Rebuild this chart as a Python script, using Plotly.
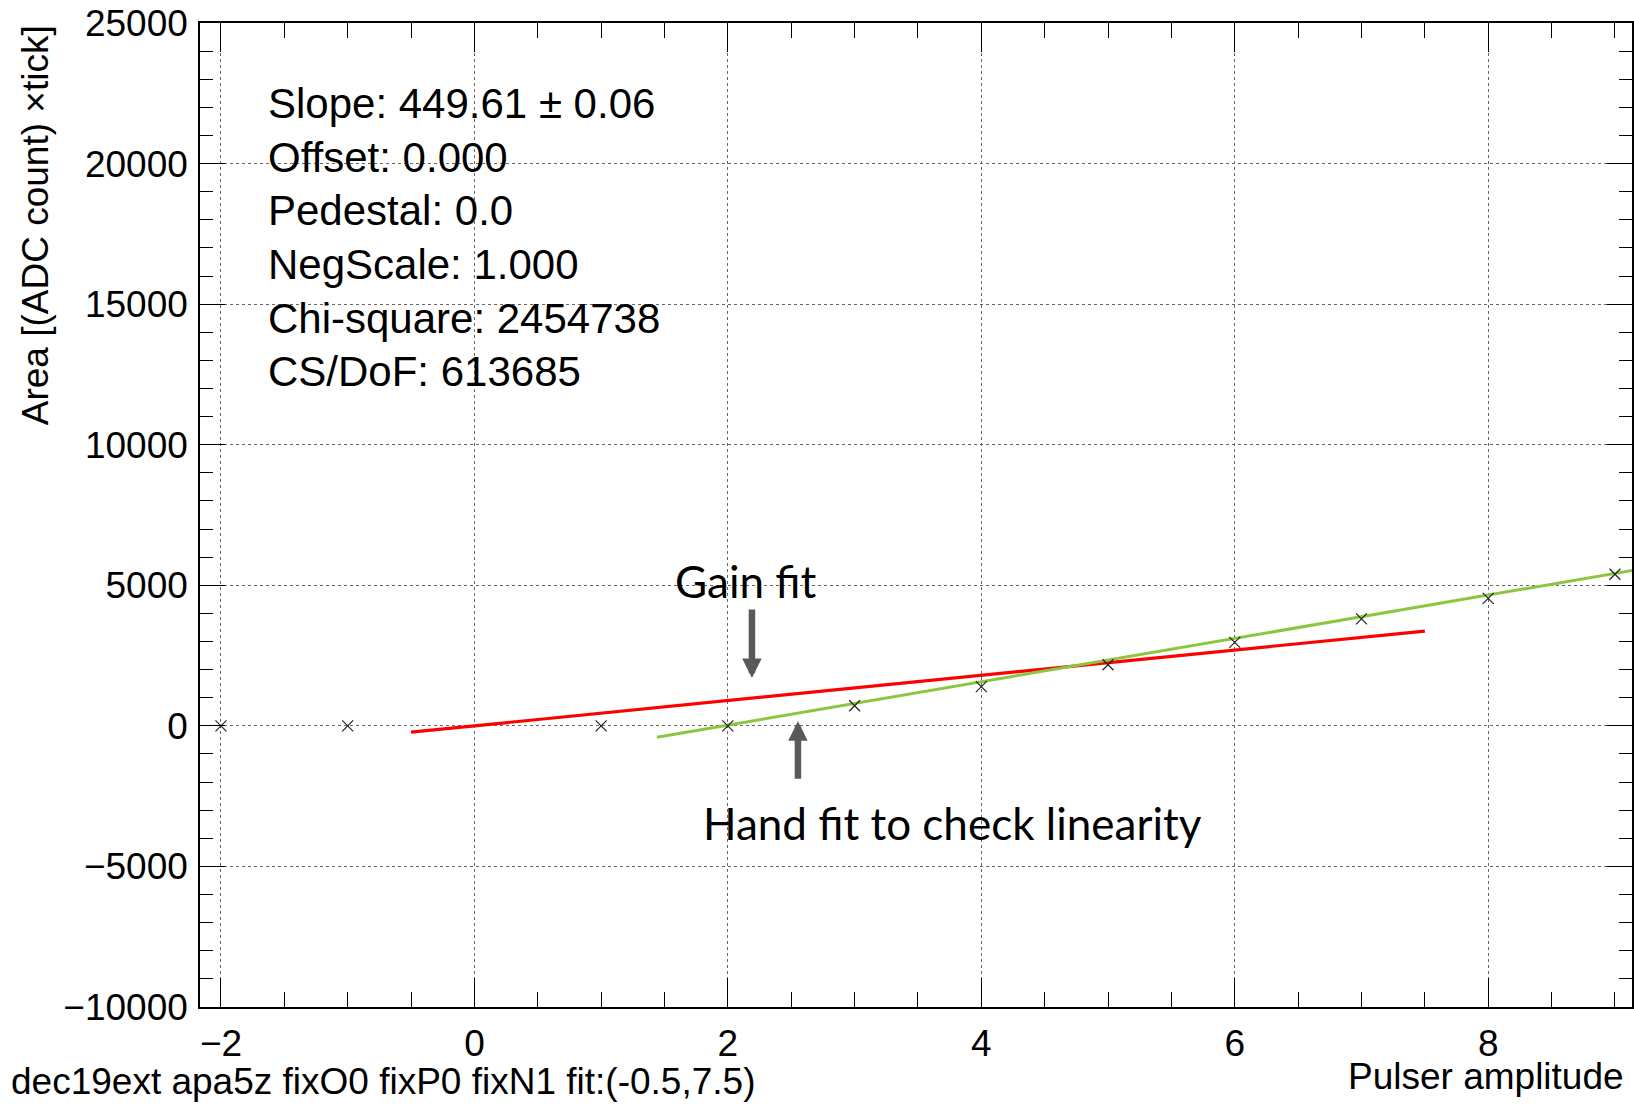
import plotly.graph_objects as go

# ---- data ----
pulser_amp = [-2, -1, 1, 2, 3, 4, 5, 6, 7, 8, 9]
area = [0, 0, 0, 0, 716, 1396, 2172, 2971, 3807, 4535, 5394]

gain_slope = 449.61
gain_offset = 0.0
gain_range = [-0.5, 7.5]

hand_slope = 771.0
hand_offset = -1516.0
hand_range = [1.44, 9.4]

x_ticks = [-2, 0, 2, 4, 6, 8]
x_ticktext = ["\u22122", "0", "2", "4", "6", "8"]
y_ticks = [-10000, -5000, 0, 5000, 10000, 15000, 20000, 25000]
y_ticktext = ["\u221210000", "\u22125000", "0", "5000", "10000", "15000", "20000", "25000"]

stats_lines = [
    "Slope: 449.61 \u00b1 0.06",
    "Offset: 0.000",
    "Pedestal: 0.0",
    "NegScale: 1.000",
    "Chi-square: 2454738",
    "CS/DoF: 613685",
]

x_title = "Pulser amplitude"
y_title = "Area [(ADC count) \u00d7tick]"
footer = "dec19ext apa5z fixO0 fixP0 fixN1 fit:(-0.5,7.5)"

# ---- figure ----
W, H = 1634, 1109
ML, MR, MT, MB = 200, 0, 23, 102
PW, PH = W - ML - MR, H - MT - MB

gain_x = gain_range
gain_y = [gain_slope * v + gain_offset for v in gain_x]
hand_x = hand_range
hand_y = [hand_slope * v + hand_offset for v in hand_x]

fig = go.Figure()
fig.add_trace(go.Scatter(x=gain_x, y=gain_y, mode="lines",
                         line=dict(color="#ff0000", width=3.2), hoverinfo="skip"))
fig.add_trace(go.Scatter(x=hand_x, y=hand_y, mode="lines",
                         line=dict(color="#8cc63f", width=3), hoverinfo="skip"))
fig.add_trace(go.Scatter(x=pulser_amp, y=area, mode="markers",
                         marker=dict(symbol="x-thin-open", size=11, color="#222222",
                                     line=dict(color="#222222", width=1.2))))

root_font = "Liberation Sans, Arial, sans-serif"
axis_common = dict(
    showline=True, linecolor="black", linewidth=1.5, mirror="ticks",
    ticks="inside", tickcolor="black", tickwidth=1.3,
    showgrid=True, gridcolor="#666666", griddash="dot", gridwidth=1,
    zeroline=False, tickfont=dict(family=root_font, size=37, color="black"),
)

fig.update_layout(
    width=W, height=H,
    margin=dict(l=ML, r=MR, t=MT, b=MB, pad=0),
    paper_bgcolor="white", plot_bgcolor="white",
    showlegend=False,
    xaxis=dict(range=[-2.1655, -2.1655 + PW / 126.9], tickmode="array",
               tickvals=x_ticks, ticktext=x_ticktext, ticklen=29, ticklabelstandoff=3,
               minor=dict(dtick=0.5, tick0=0, ticks="inside", ticklen=15,
                          tickcolor="black", tickwidth=1.3, showgrid=False),
               **axis_common),
    yaxis=dict(range=[-10000, 25000], tickmode="array", tickvals=y_ticks,
               ticktext=y_ticktext, ticklen=25, ticklabelstandoff=3,
               minor=dict(dtick=1000, tick0=0, ticks="inside", ticklen=13,
                          tickcolor="black", tickwidth=1.3, showgrid=False),
               **axis_common),
)

def px_to_paper_x(px):
    return (px - ML) / PW

def px_to_paper_y(py):
    return (H - MB - py) / PH

ann = []
# axis titles and footer (ROOT style)
ann.append(dict(text=y_title, textangle=-90, xref="paper", yref="paper",
                x=px_to_paper_x(35), y=px_to_paper_y(23), xanchor="center", yanchor="top",
                showarrow=False, font=dict(family=root_font, size=37, color="black")))
ann.append(dict(text=x_title, xref="paper", yref="paper",
                x=px_to_paper_x(1628), y=px_to_paper_y(1076), xanchor="right", yanchor="middle",
                showarrow=False, font=dict(family=root_font, size=37, color="black")))
ann.append(dict(text=footer, xref="paper", yref="paper",
                x=px_to_paper_x(9), y=px_to_paper_y(1081), xanchor="left", yanchor="middle",
                showarrow=False, font=dict(family=root_font, size=37, color="black")))
# stats
for i, line in enumerate(stats_lines):
    ann.append(dict(text=line, xref="paper", yref="paper",
                    x=px_to_paper_x(266), y=px_to_paper_y(104 + 53.5 * i),
                    xanchor="left", yanchor="middle", showarrow=False,
                    font=dict(family=root_font, size=42, color="black")))
# callouts
call_font = dict(family="Lato, Carlito, Calibri, sans-serif", size=44, color="black")
ann.append(dict(text="Gain fit", x=2.14, y=5150, xref="x", yref="y",
                xanchor="center", yanchor="middle", showarrow=False, font=call_font))
ann.append(dict(text="Hand fit to check linearity", x=3.77, y=-3463, xref="x", yref="y",
                xanchor="center", yanchor="middle", showarrow=False, font=call_font))
arrow_style = dict(text="", showarrow=True, arrowhead=2, arrowwidth=6.5, arrowsize=0.6,
                   arrowcolor="#595959", xref="x", yref="y", axref="x", ayref="y",
                   standoff=0, startstandoff=0)
ann.append(dict(x=2.19, y=1698, ax=2.19, ay=4189, **arrow_style))
ann.append(dict(x=2.553, y=160, ax=2.553, ay=-1932, **arrow_style))

fig.update_layout(annotations=ann)
fig.write_html("out.html")
